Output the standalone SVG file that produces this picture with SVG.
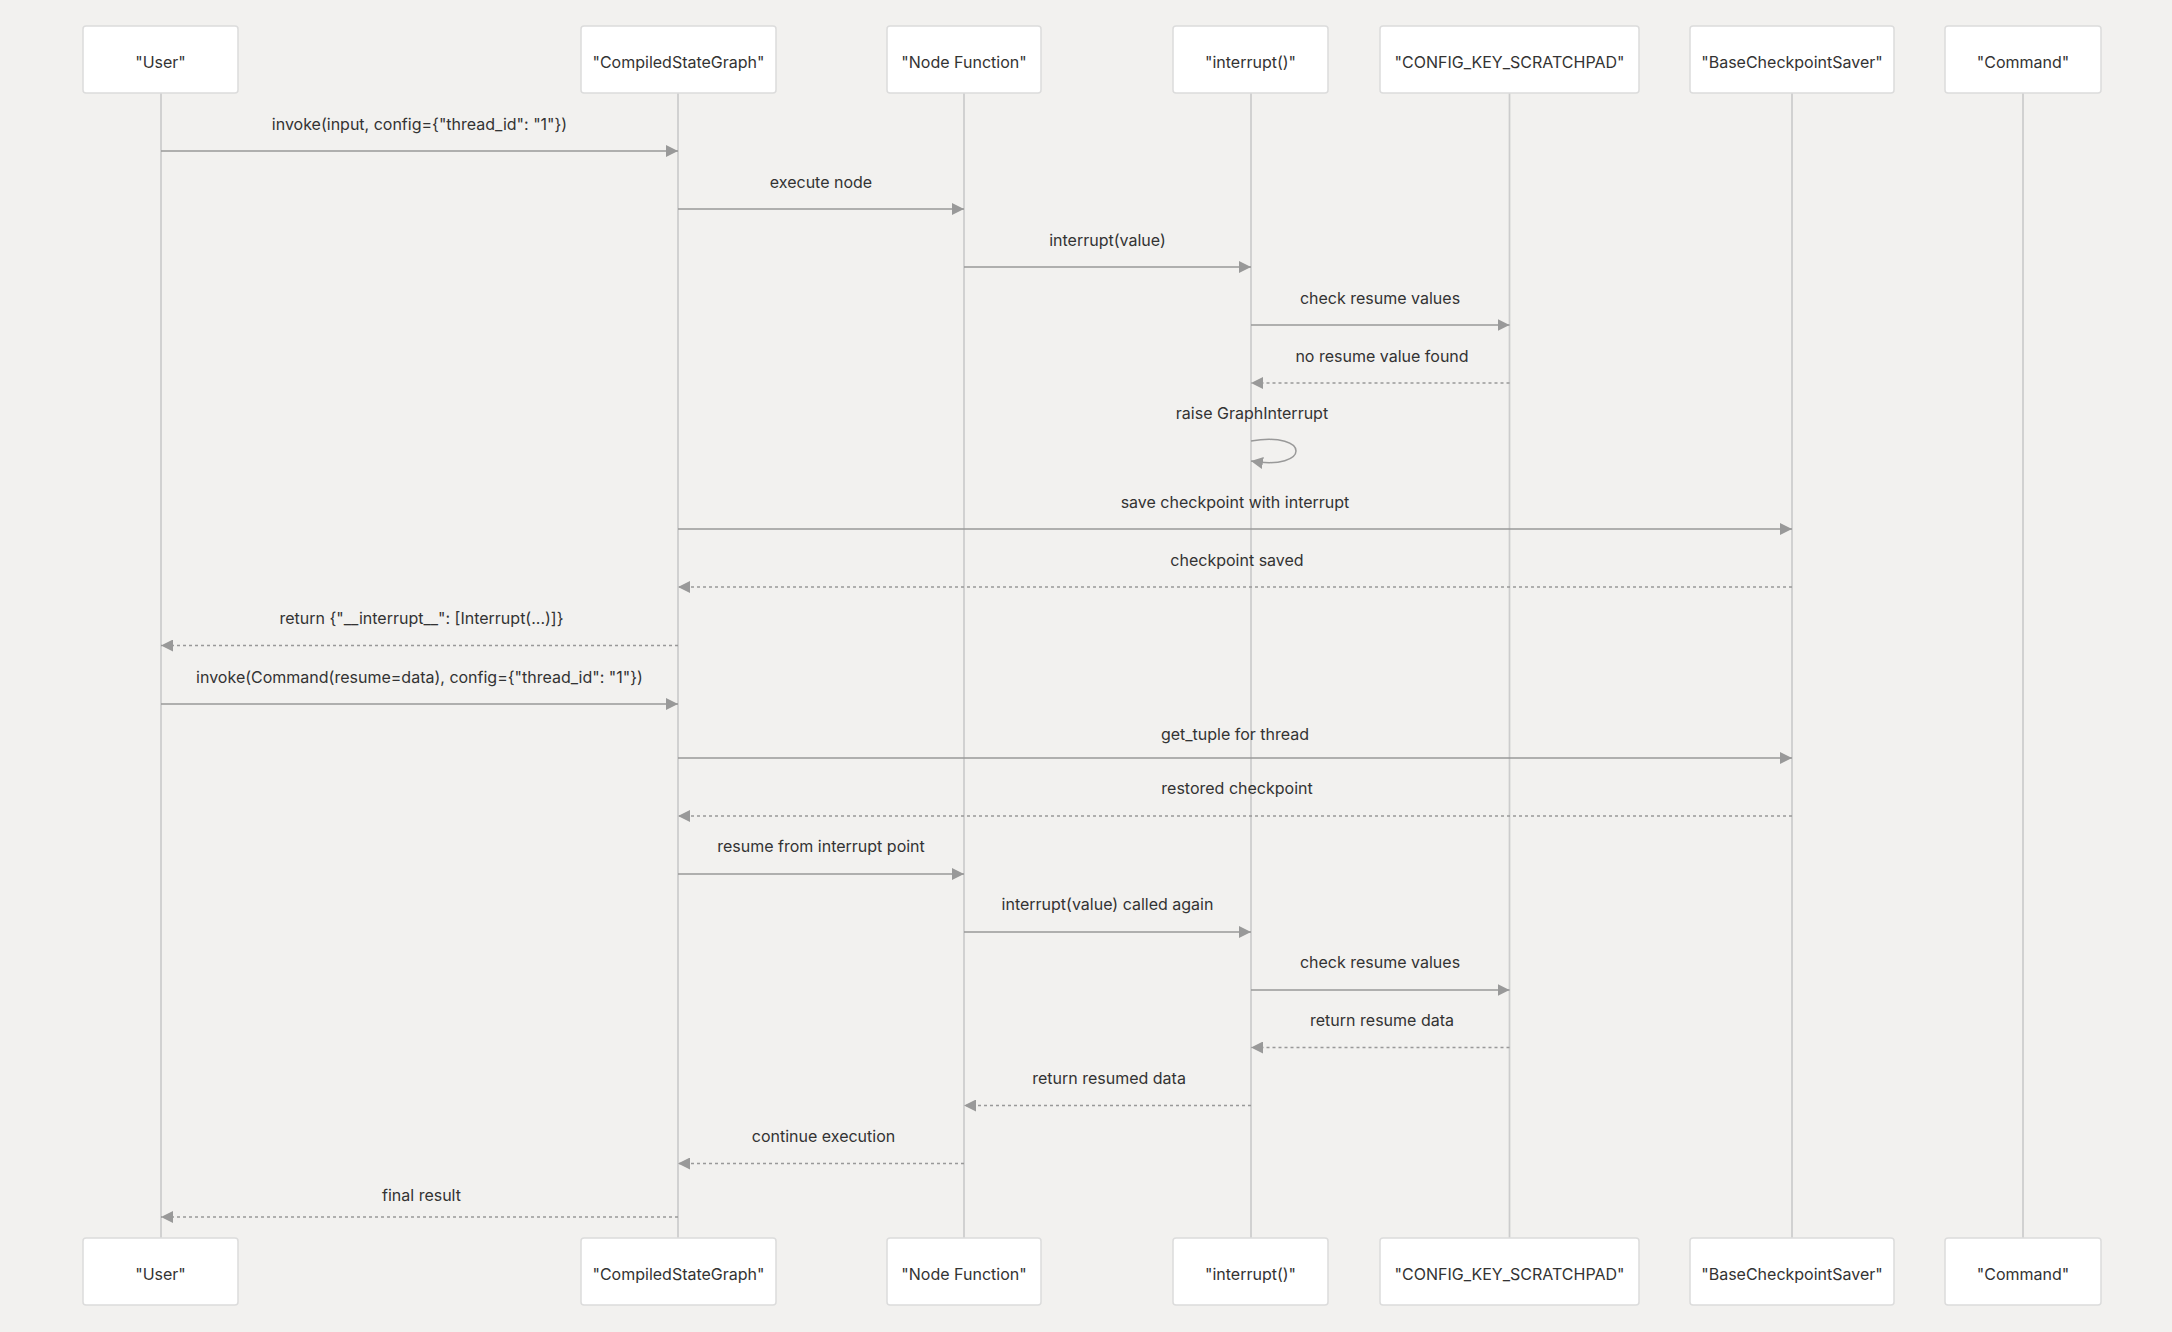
<svg xmlns="http://www.w3.org/2000/svg" width="2172" height="1332" viewBox="0 0 2172 1332">
<style>
text{font-family:Inter,"Liberation Sans",Arial,sans-serif;font-size:16px;fill:#333333;text-anchor:middle}
.box{fill:#ffffff;stroke:#dcdcdc;stroke-width:1.5}
.life{stroke:#cccccc;stroke-width:1.7}
.msg{stroke:#999999;stroke-width:1.5;fill:none}
.dash{stroke-dasharray:3,3}
</style>
<defs>
<marker id="ah" viewBox="0 0 12 12" refX="12" refY="6" markerWidth="12" markerHeight="12" markerUnits="userSpaceOnUse" orient="auto">
<path d="M0,0 L12,6 L0,12 z" fill="#999999"/>
</marker>
</defs>
<rect width="2172" height="1332" fill="#f2f1ef"/>
<g id="lifelines">
<line class="life" x1="161" y1="93" x2="161" y2="1238"/>
<line class="life" x1="678" y1="93" x2="678" y2="1238"/>
<line class="life" x1="964" y1="93" x2="964" y2="1238"/>
<line class="life" x1="1251" y1="93" x2="1251" y2="1238"/>
<line class="life" x1="1509.5" y1="93" x2="1509.5" y2="1238"/>
<line class="life" x1="1792" y1="93" x2="1792" y2="1238"/>
<line class="life" x1="2023" y1="93" x2="2023" y2="1238"/>
</g>
<g id="User">
<rect class="box" x="83" y="26" width="155" height="67" rx="3"/><text x="160.5" y="67.5">"User"</text>
<rect class="box" x="83" y="1238" width="155" height="67" rx="3"/><text x="160.5" y="1279.5">"User"</text>
</g>
<g id="CompiledStateGraph">
<rect class="box" x="581" y="26" width="195" height="67" rx="3"/><text x="678.5" y="67.5">"CompiledStateGraph"</text>
<rect class="box" x="581" y="1238" width="195" height="67" rx="3"/><text x="678.5" y="1279.5">"CompiledStateGraph"</text>
</g>
<g id="NodeFunction">
<rect class="box" x="887" y="26" width="154" height="67" rx="3"/><text x="964" y="67.5">"Node Function"</text>
<rect class="box" x="887" y="1238" width="154" height="67" rx="3"/><text x="964" y="1279.5">"Node Function"</text>
</g>
<g id="interrupt">
<rect class="box" x="1173" y="26" width="155" height="67" rx="3"/><text x="1250.5" y="67.5">"interrupt()"</text>
<rect class="box" x="1173" y="1238" width="155" height="67" rx="3"/><text x="1250.5" y="1279.5">"interrupt()"</text>
</g>
<g id="CONFIG_KEY_SCRATCHPAD">
<rect class="box" x="1380" y="26" width="259" height="67" rx="3"/><text x="1509.5" y="67.5">"CONFIG_KEY_SCRATCHPAD"</text>
<rect class="box" x="1380" y="1238" width="259" height="67" rx="3"/><text x="1509.5" y="1279.5">"CONFIG_KEY_SCRATCHPAD"</text>
</g>
<g id="BaseCheckpointSaver">
<rect class="box" x="1690" y="26" width="204" height="67" rx="3"/><text x="1792" y="67.5">"BaseCheckpointSaver"</text>
<rect class="box" x="1690" y="1238" width="204" height="67" rx="3"/><text x="1792" y="1279.5">"BaseCheckpointSaver"</text>
</g>
<g id="Command">
<rect class="box" x="1945" y="26" width="156" height="67" rx="3"/><text x="2023" y="67.5">"Command"</text>
<rect class="box" x="1945" y="1238" width="156" height="67" rx="3"/><text x="2023" y="1279.5">"Command"</text>
</g>
<g id="connectors">
<line class="msg" x1="161" y1="151" x2="678" y2="151" marker-end="url(#ah)"/>
<text x="419.5" y="129.5">invoke(input, config={"thread_id": "1"})</text>
<line class="msg" x1="678" y1="209" x2="964" y2="209" marker-end="url(#ah)"/>
<text x="821" y="187.5">execute node</text>
<line class="msg" x1="964" y1="267" x2="1251" y2="267" marker-end="url(#ah)"/>
<text x="1107.5" y="245.5">interrupt(value)</text>
<line class="msg" x1="1251" y1="325" x2="1509.5" y2="325" marker-end="url(#ah)"/>
<text x="1380" y="303.5">check resume values</text>
<line class="msg dash" x1="1509.5" y1="383" x2="1251" y2="383" marker-end="url(#ah)"/>
<text x="1382" y="361.5">no resume value found</text>
<path class="msg" d="M1251,441 C1311,431 1311,471 1251,461" marker-end="url(#ah)"/>
<text x="1252" y="418.5">raise GraphInterrupt</text>
<line class="msg" x1="678" y1="529" x2="1792" y2="529" marker-end="url(#ah)"/>
<text x="1235" y="507.5">save checkpoint with interrupt</text>
<line class="msg dash" x1="1792" y1="587" x2="678" y2="587" marker-end="url(#ah)"/>
<text x="1237" y="565.5">checkpoint saved</text>
<line class="msg dash" x1="678" y1="645.5" x2="161" y2="645.5" marker-end="url(#ah)"/>
<text x="421.5" y="624">return {"__interrupt__": [Interrupt(...)]}</text>
<line class="msg" x1="161" y1="704" x2="678" y2="704" marker-end="url(#ah)"/>
<text x="419.5" y="682.5">invoke(Command(resume=data), config={"thread_id": "1"})</text>
<line class="msg" x1="678" y1="758" x2="1792" y2="758" marker-end="url(#ah)"/>
<text x="1235" y="740">get_tuple for thread</text>
<line class="msg dash" x1="1792" y1="816" x2="678" y2="816" marker-end="url(#ah)"/>
<text x="1237" y="794">restored checkpoint</text>
<line class="msg" x1="678" y1="874" x2="964" y2="874" marker-end="url(#ah)"/>
<text x="821" y="852">resume from interrupt point</text>
<line class="msg" x1="964" y1="932" x2="1251" y2="932" marker-end="url(#ah)"/>
<text x="1107.5" y="910">interrupt(value) called again</text>
<line class="msg" x1="1251" y1="990" x2="1509.5" y2="990" marker-end="url(#ah)"/>
<text x="1380" y="968">check resume values</text>
<line class="msg dash" x1="1509.5" y1="1047.5" x2="1251" y2="1047.5" marker-end="url(#ah)"/>
<text x="1382" y="1025.5">return resume data</text>
<line class="msg dash" x1="1251" y1="1105.5" x2="964" y2="1105.5" marker-end="url(#ah)"/>
<text x="1109" y="1083.5">return resumed data</text>
<line class="msg dash" x1="964" y1="1163.5" x2="678" y2="1163.5" marker-end="url(#ah)"/>
<text x="823.5" y="1142">continue execution</text>
<line class="msg dash" x1="678" y1="1217" x2="161" y2="1217" marker-end="url(#ah)"/>
<text x="421.5" y="1200.5">final result</text>
</g>
</svg>
